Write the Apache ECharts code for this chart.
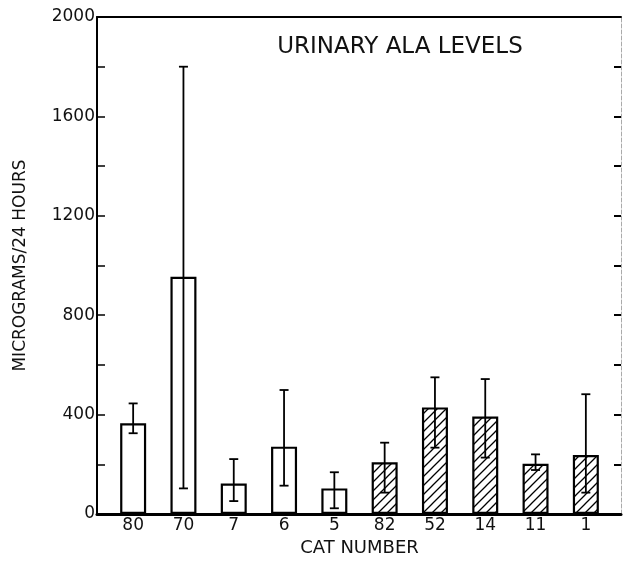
<!DOCTYPE html>
<html>
<head>
<meta charset="utf-8">
<script src="https://cdn.jsdelivr.net/npm/echarts@6/dist/echarts.min.js"></script>
<style>html,body{margin:0;padding:0;background:#fff;}#c{width:623px;height:562px;}</style>
</head>
<body>
<div id="c"></div>
<script>
const categories = ['80','70','7','6','5','82','52','14','11','1'];
const means = [365, 955, 123, 271, 103, 208, 429, 392, 202, 237];
const errLow = [325, 103, 52, 114, 23, 86, 267, 227, 177, 86];
const errHigh = [445, 1800, 221, 499, 168, 287, 550, 543, 240, 482];
const hatched = [false, false, false, false, false, true, true, true, true, true];
const yTicks = [0, 400, 800, 1200, 1600, 2000];

const FONT = 'DejaVu Sans';

function makeHatch() {
  const s = 9;
  const cv = document.createElement('canvas');
  cv.width = s; cv.height = s;
  const ctx = cv.getContext('2d');
  ctx.fillStyle = '#fff';
  ctx.fillRect(0, 0, s, s);
  ctx.strokeStyle = '#000';
  ctx.lineWidth = 1.3;
  ctx.beginPath();
  ctx.moveTo(0, s); ctx.lineTo(s, 0);
  ctx.moveTo(-2, 2); ctx.lineTo(2, -2);
  ctx.moveTo(s - 2, s + 2); ctx.lineTo(s + 2, s - 2);
  ctx.stroke();
  return cv;
}
const hatch = makeHatch();

const chart = echarts.init(document.getElementById('c'), null, {renderer: 'canvas'});

const barData = means.map((v, i) => ({
  value: v,
  itemStyle: {
    color: hatched[i] ? {image: hatch, repeat: 'repeat'} : '#fff',
    borderColor: '#000',
    borderWidth: 2.2
  }
}));

const errData = categories.map((c, i) => [i, errLow[i], errHigh[i]]);

chart.setOption({
  animation: false,
  backgroundColor: '#fff',
  title: {
    text: 'URINARY ALA LEVELS',
    left: 395, top: 31, textAlign: 'center',
    textStyle: {fontFamily: FONT, fontSize: 23, fontWeight: 'normal', color: '#111'}
  },
  grid: [
    {left: 108, width: 503, top: 17, bottom: 48, containLabel: false},
    {left: 97, right: 2, top: 17, bottom: 48, containLabel: false}
  ],
  xAxis: [
    {
      type: 'category', gridIndex: 0, data: categories,
      axisLine: {show: false}, axisTick: {show: false},
      axisLabel: {fontFamily: FONT, fontSize: 17, color: '#111', margin: 3},
      name: 'CAT NUMBER', nameLocation: 'middle', nameGap: 25,
      nameTextStyle: {fontFamily: FONT, fontSize: 18, color: '#111'}
    },
    {
      type: 'value', gridIndex: 1, position: 'bottom', min: 0, max: 1,
      axisLine: {show: true, onZero: false, lineStyle: {color: '#000', width: 3}},
      axisTick: {show: false}, axisLabel: {show: false}, splitLine: {show: false}
    },
    {
      type: 'value', gridIndex: 1, position: 'top', min: 0, max: 1,
      axisLine: {show: true, onZero: false, lineStyle: {color: '#000', width: 2}},
      axisTick: {show: false}, axisLabel: {show: false}, splitLine: {show: false}
    }
  ],
  yAxis: [
    {
      type: 'value', gridIndex: 0, min: 0, max: 2000, show: false
    },
    {
      type: 'value', gridIndex: 1, min: 0, max: 2000, interval: 200, position: 'left',
      axisLine: {show: true, onZero: false, lineStyle: {color: '#000', width: 2}},
      axisTick: {show: true, inside: true, length: 8, lineStyle: {color: '#000', width: 1.5}},
      axisLabel: {
        fontFamily: FONT, fontSize: 17, color: '#111', margin: 2,
        formatter: v => (yTicks.indexOf(v) >= 0 ? String(v) : '')
      },
      splitLine: {show: false},
      name: 'MICROGRAMS/24 HOURS', nameLocation: 'middle', nameGap: 68,
      nameTextStyle: {fontFamily: FONT, fontSize: 17, color: '#111'}
    },
    {
      type: 'value', gridIndex: 1, min: 0, max: 2000, interval: 200, position: 'right',
      axisLine: {show: true, onZero: false, lineStyle: {color: '#aaa', width: 1, type: 'dashed'}},
      axisTick: {show: true, inside: true, length: 7, lineStyle: {color: '#000', width: 2}},
      axisLabel: {show: false}, splitLine: {show: false}
    }
  ],
  series: [
    {
      type: 'bar', xAxisIndex: 0, yAxisIndex: 0, data: barData, barWidth: 26, z: 2
    },
    {
      type: 'custom', xAxisIndex: 0, yAxisIndex: 0, data: errData, z: 3,
      renderItem: function (params, api) {
        const x = api.value(0);
        const lo = api.coord([x, api.value(1)]);
        const hi = api.coord([x, api.value(2)]);
        const hw = 4.5;
        const st = {stroke: '#000', lineWidth: 1.8};
        return {
          type: 'group',
          children: [
            {type: 'line', shape: {x1: lo[0], y1: lo[1], x2: hi[0], y2: hi[1]}, style: st},
            {type: 'line', shape: {x1: lo[0] - hw, y1: lo[1], x2: lo[0] + hw, y2: lo[1]}, style: st},
            {type: 'line', shape: {x1: hi[0] - hw, y1: hi[1], x2: hi[0] + hw, y2: hi[1]}, style: st}
          ]
        };
      }
    }
  ]
});
</script>
</body>
</html>
